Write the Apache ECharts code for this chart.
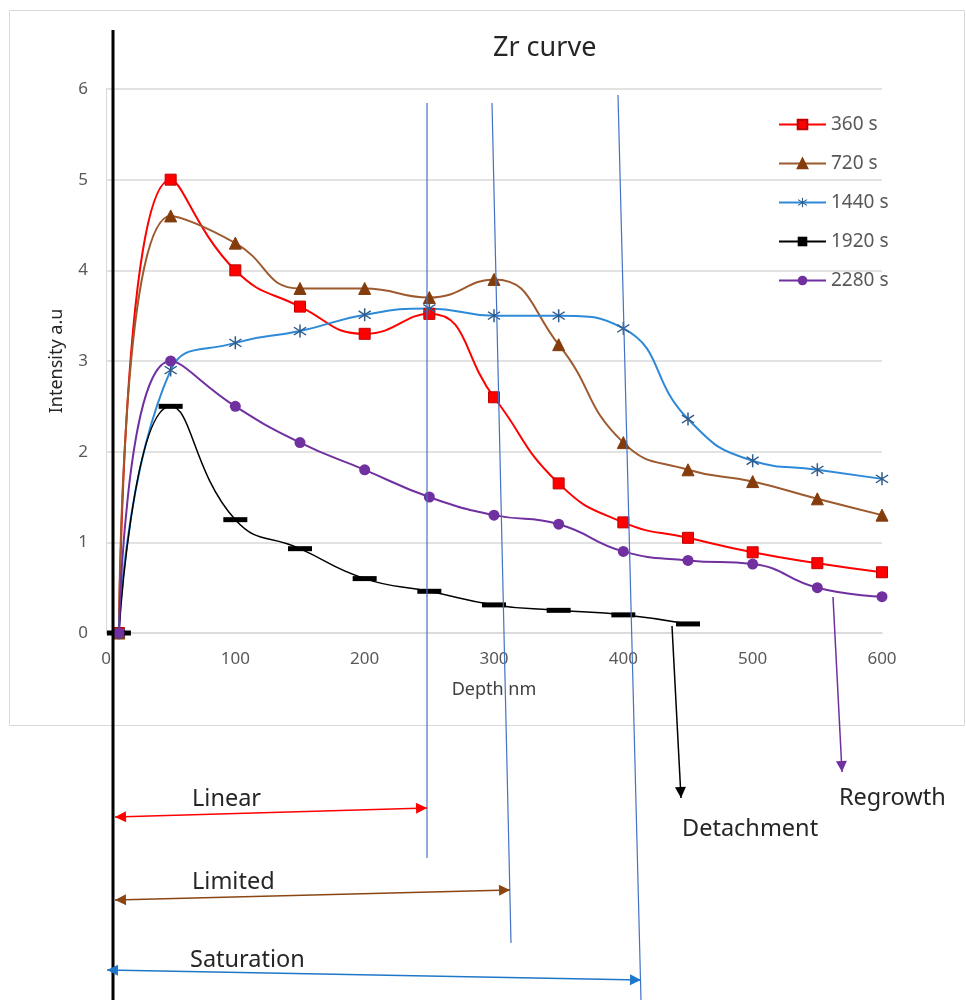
<!DOCTYPE html>
<html>
<head>
<meta charset="utf-8">
<script src="https://cdn.jsdelivr.net/npm/echarts@6/dist/echarts.min.js"></script>
<style>html,body{margin:0;padding:0;background:#fff;}#c{width:966px;height:1000px;}</style>
</head>
<body>
<div id="c"></div>
<script>
const depth = [10, 50, 100, 150, 200, 250, 300, 350, 400, 450, 500, 550, 600];
const s360  = [0, 5.0, 4.0, 3.6, 3.3, 3.52, 2.6, 1.65, 1.22, 1.05, 0.89, 0.77, 0.67];
const s720  = [0, 4.6, 4.3, 3.8, 3.8, 3.7, 3.9, 3.18, 2.1, 1.8, 1.67, 1.48, 1.3];
const s1440 = [0, 2.9, 3.2, 3.33, 3.51, 3.58, 3.5, 3.5, 3.36, 2.36, 1.9, 1.8, 1.7];
const s1920 = [0, 2.5, 1.25, 0.93, 0.6, 0.46, 0.31, 0.25, 0.2, 0.1];
const s2280 = [0, 3.0, 2.5, 2.1, 1.8, 1.5, 1.3, 1.2, 0.9, 0.8, 0.76, 0.5, 0.4];
const seriesNames = ['360 s', '720 s', '1440 s', '1920 s', '2280 s'];
const xTicks = [0, 100, 200, 300, 400, 500, 600];

function pairs(vals) { return vals.map((v, i) => [depth[i], v]); }

const star = 'path://M9,0L11,0L11,20L9,20Z M1.4,4.8L2.6,3.2L18.6,15.2L17.4,16.8Z M17.4,3.2L18.6,4.8L2.6,16.8L1.4,15.2Z';
const FONT = 'Noto Sans';

const chart = echarts.init(document.getElementById('c'));

function arrowHead(x1, y1, x2, y2, color) {
  const dx = x2 - x1, dy = y2 - y1, L = Math.hypot(dx, dy);
  const ux = dx / L, uy = dy / L, px = -uy, py = ux;
  const len = 11, hw = 5.5;
  return {
    type: 'polygon', z: 100,
    shape: { points: [[x2, y2], [x2 - ux * len + px * hw, y2 - uy * len + py * hw], [x2 - ux * len - px * hw, y2 - uy * len - py * hw]] },
    style: { fill: color }
  };
}
function line(x1, y1, x2, y2, color, w) {
  return { type: 'line', z: 100, shape: { x1, y1, x2, y2 }, style: { stroke: color, lineWidth: w } };
}
function arrow(x1, y1, x2, y2, color, both) {
  const els = [line(x1, y1, x2, y2, color, 1.5), arrowHead(x1, y1, x2, y2, color)];
  if (both) els.push(arrowHead(x2, y2, x1, y1, color));
  return els;
}
function txt(x, y, s) {
  return { type: 'text', z: 100, style: { x: x, y: y, text: s, verticalAlign: 'middle', fill: '#262626', font: '23.5px "Noto Sans", sans-serif' } };
}

const blue = '#4472C4';
const graphics = [
  { type: 'rect', z: 0, shape: { x: 9.5, y: 10.5, width: 955, height: 715 }, style: { fill: null, stroke: '#d9d9d9', lineWidth: 1 } },
  line(113, 30, 113, 1000, '#000', 3),
  line(427, 103, 427, 858, blue, 1.2),
  line(492, 103, 511, 943, blue, 1.2),
  line(618, 95, 641, 1000, blue, 1.2),
  ...arrow(115, 817, 427, 808, '#ff0000', true),
  ...arrow(115, 900, 510, 890, '#8B4513', true),
  ...arrow(107, 970, 641, 980, '#1f77c9', true),
  ...arrow(672, 626, 681, 798, '#000', false),
  ...arrow(833, 597, 842, 772, '#7030A0', false),
  txt(192, 799, 'Linear'),
  txt(192, 882, 'Limited'),
  txt(190, 960, 'Saturation'),
  txt(682, 829, 'Detachment'),
  txt(839, 798, 'Regrowth')
];

chart.setOption({
  backgroundColor: '#fff',
  animation: false,
  title: {
    text: 'Zr curve', left: 488, top: 30,
    textStyle: { fontFamily: FONT, fontSize: 27, fontWeight: 'normal', color: '#262626' }
  },
  legend: {
    orient: 'vertical', left: 773, top: 110, itemWidth: 47, itemHeight: 12, itemGap: 20,
    textStyle: { fontFamily: FONT, fontSize: 19, color: '#595959' },
    data: seriesNames
  },
  grid: { left: 106, right: 84, top: 89, bottom: 367 },
  xAxis: {
    type: 'value', min: 0, max: 600, interval: 100,
    name: 'Depth nm', nameLocation: 'middle', nameGap: 48,
    nameTextStyle: { fontFamily: FONT, fontSize: 18, color: '#404040' },
    axisLine: { show: true, lineStyle: { color: '#d9d9d9', width: 1.5 } },
    axisTick: { show: false }, splitLine: { show: false },
    axisLabel: { fontFamily: FONT, fontSize: 17, color: '#595959', margin: 18,
      formatter: v => xTicks.includes(v) ? String(v) : '' }
  },
  yAxis: {
    type: 'value', min: 0, max: 6, interval: 1,
    name: 'Intensity a.u', nameLocation: 'middle', nameGap: 40, nameRotate: 90,
    nameTextStyle: { fontFamily: FONT, fontSize: 18, color: '#262626' },
    axisLine: { show: true, lineStyle: { color: '#d9d9d9' } },
    axisTick: { show: false },
    splitLine: { lineStyle: { color: '#d9d9d9', width: 1.5 } },
    axisLabel: { fontFamily: FONT, fontSize: 17, color: '#595959', margin: 18 }
  },
  series: [
    { name: '360 s', type: 'line', smooth: 0.5, data: pairs(s360), symbol: 'rect', symbolSize: 11,
      lineStyle: { color: '#ff0000', width: 2 }, itemStyle: { color: '#ff0000', borderColor: '#c00000', borderWidth: 1 } },
    { name: '720 s', type: 'line', smooth: 0.5, data: pairs(s720), symbol: 'triangle', symbolSize: 12,
      lineStyle: { color: '#9c5a2e', width: 2 }, itemStyle: { color: '#843c0c', borderColor: '#843c0c', borderWidth: 1 } },
    { name: '1440 s', type: 'line', smooth: 0.5, data: pairs(s1440), symbol: star, symbolSize: 13,
      lineStyle: { color: '#2e8ad8', width: 2 }, itemStyle: { color: '#2f5d8c', borderWidth: 0 } },
    { name: '1920 s', type: 'line', smooth: 0.5, data: pairs(s1920), symbol: 'rect', symbolSize: [24, 5],
      lineStyle: { color: '#000', width: 1.5 }, itemStyle: { color: '#000' } },
    { name: '2280 s', type: 'line', smooth: 0.5, data: pairs(s2280), symbol: 'circle', symbolSize: 11,
      lineStyle: { color: '#7030A0', width: 2 }, itemStyle: { color: '#7030A0' } }
  ],
  graphic: graphics
});
</script>
</body>
</html>
